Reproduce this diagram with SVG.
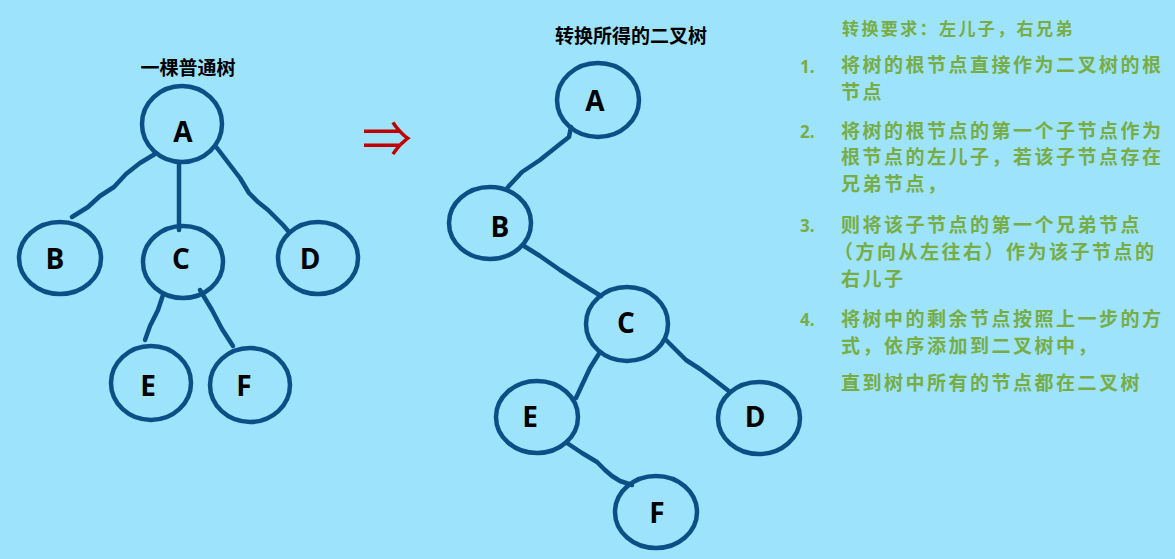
<svg xmlns="http://www.w3.org/2000/svg" width="1175" height="559" viewBox="0 0 1175 559">
<style>
.bg{fill:#9de3fb}
.node ellipse{fill:none;stroke:#0b4f86;stroke-width:4.5}
.node text{font-family:"Open Sans","Noto Sans",sans-serif;font-weight:700;font-size:28px;fill:#000;text-anchor:middle}
#edges path{fill:none;stroke:#0b4f86;stroke-width:4.5;stroke-linecap:round;stroke-linejoin:round}
.title{font-family:"Noto Sans CJK SC",sans-serif;font-weight:700;font-size:19px;fill:#000;text-anchor:middle}
.g{font-family:"Noto Sans CJK SC",sans-serif;font-weight:700;font-size:19px;fill:#77ad44;letter-spacing:2.5px}
.num{font-family:"Open Sans","Noto Sans",sans-serif;font-weight:700;font-size:17px;fill:#77ad44}
</style>
<rect class="bg" x="0" y="0" width="1175" height="559"/>

<text class="title" x="188" y="75">一棵普通树</text>
<text class="title" x="631" y="43">转换所得的二叉树</text>

<text x="387" y="157" font-family="Noto Sans CJK SC, sans-serif" font-size="50" fill="#c00000" text-anchor="middle">⇒</text>

<g id="edges">
<path d="M155,154 L140,163 L126,174 L114,187 L100,196 L88,207 L72,217"/>
<path d="M179,163 L179,230"/>
<path d="M217,148 L230,165 L240,178 L249,193 L258,202 L268,210 L276,218 L283,225 L289,232"/>
<path d="M163,295 L158,310 L150,326 L145,340"/>
<path d="M200,290 L212,310 L222,329 L233,346"/>
<path d="M571,127 L569,137 L560,144 L540,160 L522,172 L508,187"/>
<path d="M524,246 L540,256 L560,270 L580,283 L601,296"/>
<path d="M600,352 L590,368 L582,385 L576,398"/>
<path d="M665,339 L686,360 L700,369 L712,378 L730,392"/>
<path d="M567,443 L582,453 L597,462 L605,470 L612,476 L620,481 L632,485"/>
</g>

<g id="L_A" class="node"><ellipse cx="182" cy="124" rx="40" ry="38"/><text x="183" y="142">A</text></g>
<g id="L_B" class="node"><ellipse cx="60" cy="258" rx="41" ry="36"/><text x="55" y="269">B</text></g>
<g id="L_C" class="node"><ellipse cx="183" cy="262" rx="40" ry="36"/><text x="181" y="269">C</text></g>
<g id="L_D" class="node"><ellipse cx="318" cy="258" rx="40" ry="36"/><text x="310" y="269">D</text></g>
<g id="L_E" class="node"><ellipse cx="151" cy="383" rx="40" ry="37"/><text x="148" y="396">E</text></g>
<g id="L_F" class="node"><ellipse cx="250" cy="385" rx="40" ry="37"/><text x="244" y="396">F</text></g>

<g id="R_A" class="node"><ellipse cx="598" cy="100" rx="41" ry="37"/><text x="595" y="111">A</text></g>
<g id="R_B" class="node"><ellipse cx="490" cy="223" rx="41" ry="36"/><text x="500" y="237">B</text></g>
<g id="R_C" class="node"><ellipse cx="627" cy="324" rx="41" ry="37"/><text x="626" y="333">C</text></g>
<g id="R_E" class="node"><ellipse cx="537" cy="417" rx="41" ry="36"/><text x="530" y="427">E</text></g>
<g id="R_D" class="node"><ellipse cx="759" cy="418" rx="41" ry="36"/><text x="755" y="427">D</text></g>
<g id="R_F" class="node"><ellipse cx="656" cy="512" rx="41" ry="36"/><text x="657" y="523">F</text></g>

<g id="rules">
<text class="g" x="842" y="35" style="font-size:17px;letter-spacing:2.4px">转换要求：左儿子，右兄弟</text>
<text class="num" x="800" y="73">1.</text>
<text class="g" x="841" y="72">将树的根节点直接作为二叉树的根</text>
<text class="g" x="841" y="99">节点</text>
<text class="num" x="800" y="138">2.</text>
<text class="g" x="841" y="138">将树的根节点的第一个子节点作为</text>
<text class="g" x="841" y="164">根节点的左儿子，若该子节点存在</text>
<text class="g" x="841" y="191">兄弟节点，</text>
<text class="num" x="800" y="232">3.</text>
<text class="g" x="841" y="232">则将该子节点的第一个兄弟节点</text>
<text class="g" x="834" y="259">（方向从左往右）作为该子节点的</text>
<text class="g" x="841" y="286">右儿子</text>
<text class="num" x="800" y="326">4.</text>
<text class="g" x="841" y="326">将树中的剩余节点按照上一步的方</text>
<text class="g" x="841" y="353">式，依序添加到二叉树中，</text>
<text class="g" x="841" y="390">直到树中所有的节点都在二叉树</text>
</g>
</svg>
